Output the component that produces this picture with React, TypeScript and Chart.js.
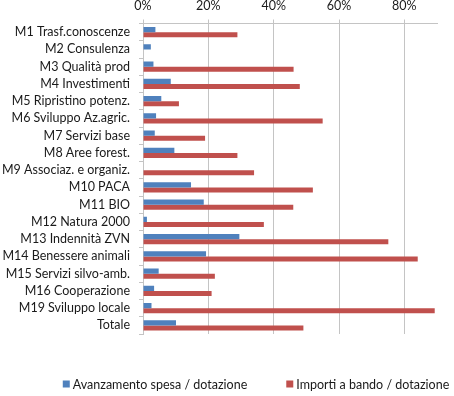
import React, { useEffect, useRef } from "react";
import { Chart, registerables } from "chart.js";

Chart.register(...registerables);

const categories = [
  "M1 Trasf.conoscenze",
  "M2 Consulenza",
  "M3 Qualità prod",
  "M4 Investimenti",
  "M5 Ripristino potenz.",
  "M6 Sviluppo Az.agric.",
  "M7 Servizi base",
  "M8 Aree forest.",
  "M9 Associaz. e organiz.",
  "M10 PACA",
  "M11 BIO",
  "M12 Natura 2000",
  "M13 Indennità ZVN",
  "M14 Benessere animali",
  "M15 Servizi silvo-amb.",
  "M16 Cooperazione",
  "M19 Sviluppo locale",
  "Totale",
];

const avanzamentoSpesa = [3.8, 2.4, 3.2, 8.5, 5.6, 4.0, 3.6, 9.6, 0, 14.7, 18.6, 1.2, 29.5, 19.3, 4.8, 3.4, 2.6, 10.1];
const importiBando = [28.9, 0, 46.1, 48.0, 11.0, 55.0, 19.0, 28.9, 34.0, 52.0, 46.0, 37.0, 75.1, 84.1, 22.0, 21.0, 89.3, 49.1];

const seriesLabels = ["Avanzamento spesa / dotazione", "Importi a bando / dotazione"];
const seriesColors = ["#4F81BD", "#C0504D"];
const xTickValues = [0, 20, 40, 60, 80];
const xMax = 90;

const FONT = "Lato";
const FONT_SIZE = 12.5;
const GRID = "#C4C4C4";
const TEXT = "#1a1a1a";

// Legend drawn below the plot, built from the datasets
const bottomLegend = {
  id: "bottomLegend",
  afterDraw(chart: any) {
    const ctx = chart.ctx;
    const box = 7;
    const gapBoxText = 3;
    const itemGap = 39;
    const centerX = 256;
    const y = 384;
    ctx.save();
    ctx.font = `${FONT_SIZE}px ${FONT}`;
    ctx.textBaseline = "middle";
    ctx.textAlign = "left";
    const items = chart.data.datasets.map((ds: any) => ({
      text: ds.label,
      color: ds.backgroundColor,
      w: box + gapBoxText + ctx.measureText(ds.label).width,
    }));
    const total = items.reduce((s: number, it: any) => s + it.w, 0) + itemGap * (items.length - 1);
    let x = centerX - total / 2;
    for (const it of items) {
      ctx.fillStyle = it.color;
      ctx.fillRect(x, y - box / 2, box, box);
      ctx.fillStyle = TEXT;
      ctx.fillText(it.text, x + box + gapBoxText, y + 0.5);
      x += it.w + itemGap;
    }
    ctx.restore();
  },
};

export default function App() {
  const ref = useRef<HTMLCanvasElement | null>(null);

  useEffect(() => {
    if (!ref.current) return;
    const chart = new Chart(ref.current, {
      type: "bar",
      data: {
        labels: categories,
        datasets: [
          {
            label: seriesLabels[0],
            data: avanzamentoSpesa,
            backgroundColor: seriesColors[0],
            categoryPercentage: 0.58,
            barPercentage: 1.0,
          },
          {
            label: seriesLabels[1],
            data: importiBando,
            backgroundColor: seriesColors[1],
            categoryPercentage: 0.58,
            barPercentage: 1.0,
          },
        ],
      },
      plugins: [bottomLegend],
      options: {
        indexAxis: "y",
        animation: false,
        responsive: true,
        maintainAspectRatio: false,
        layout: { padding: { left: 0, right: 17, top: 0, bottom: 62 } },
        plugins: {
          tooltip: { enabled: false },
          legend: { display: false },
        },
        scales: {
          x: {
            position: "top",
            min: 0,
            max: xMax,
            afterBuildTicks: (scale: any) => {
              scale.ticks = xTickValues.map((v) => ({ value: v }));
            },
            afterFit: (scale: any) => {
              scale.height = 23.5;
            },
            ticks: {
              color: TEXT,
              padding: 6,
              font: { family: FONT, size: FONT_SIZE },
              callback: (v: any) => v + "%",
            },
            grid: { color: GRID, tickLength: 4 },
            border: { color: GRID },
          },
          y: {
            afterFit: (scale: any) => {
              scale.width = 143;
            },
            ticks: {
              color: TEXT,
              padding: 9,
              autoSkip: false,
              font: { family: FONT, size: FONT_SIZE },
            },
            grid: { offset: true, drawOnChartArea: false, color: GRID, tickLength: 4 },
            border: { color: GRID },
          },
        },
      },
    });
    return () => chart.destroy();
  }, []);

  return (
    <div style={{ position: "fixed", left: 0, top: 0, width: 454, height: 396, background: "#fff" }}>
      <canvas ref={ref} />
    </div>
  );
}
